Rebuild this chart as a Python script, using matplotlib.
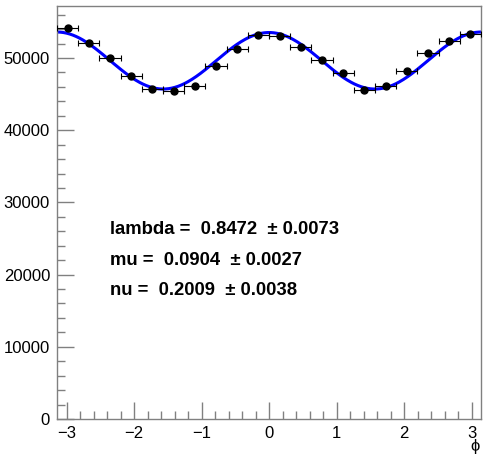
import numpy as np
import matplotlib
matplotlib.use("Agg")
import matplotlib.pyplot as plt
from matplotlib.ticker import MultipleLocator

plt.rcParams['font.family'] = ['Liberation Sans', 'DejaVu Sans']

# Data: 20 bins in phi
phi_centers = [-2.985, -2.670, -2.356, -2.042, -1.728, -1.414, -1.100, -0.785, -0.471, -0.157,
               0.157, 0.471, 0.785, 1.100, 1.414, 1.728, 2.042, 2.356, 2.670, 2.985]
counts = [54150, 52080, 50040, 47550, 45750, 45390, 46080, 48890, 51290, 53190,
          53100, 51570, 49720, 47880, 45570, 46170, 48240, 50650, 52400, 53320]
half_width = np.pi / 20

# Fit result (drawn curve): A * (1 + c1*cos(phi) + c2*cos(2*phi))
fit_A = 49632
fit_c1 = -0.0007
fit_c2 = 0.0792

fit_labels = ["lambda =  0.8472  \u00b1 0.0073",
              "mu =  0.0904  \u00b1 0.0027",
              "nu =  0.2009  \u00b1 0.0038"]
label_y = [26300, 22020, 17730]

fig = plt.figure(figsize=(4.83, 4.55), dpi=100)
ax = fig.add_axes([0.118, 0.0791, 0.878, 0.9077])

ax.errorbar(phi_centers, counts, xerr=half_width, yerr=np.sqrt(counts),
            fmt='o', color='black', markersize=5, elinewidth=0.8,
            capsize=2, capthick=0.8, zorder=3)

xs = np.linspace(-np.pi, np.pi, 400)
ax.plot(xs, fit_A * (1 + fit_c1 * np.cos(xs) + fit_c2 * np.cos(2 * xs)),
        color='#0000ff', linewidth=2.2, zorder=2)

for txt, yv in zip(fit_labels, label_y):
    ax.text(0.125, yv, txt, transform=ax.get_yaxis_transform(),
            fontsize=13.3, fontweight='bold', va='center', ha='left')

ax.set_xlim(-np.pi, np.pi)
ax.set_ylim(0, 57200)
ax.xaxis.set_major_locator(MultipleLocator(1))
ax.xaxis.set_minor_locator(MultipleLocator(0.2))
ax.yaxis.set_major_locator(MultipleLocator(10000))
ax.yaxis.set_minor_locator(MultipleLocator(2000))
ax.set_xticks([-3, -2, -1, 0, 1, 2, 3])
ax.set_xticklabels(['\u22123', '\u22122', '\u22121', '0', '1', '2', '3'])

ax.tick_params(which='both', direction='in', top=False, right=False,
               color='#808080', labelsize=12, width=1)
ax.tick_params(which='major', length=12, pad=5)
ax.tick_params(which='minor', length=6)
for s in ax.spines.values():
    s.set_color('#808080')
    s.set_linewidth(1)

fig.text(0.993, 0.002, '\u03d5', fontsize=12, ha='right', va='bottom')

fig.savefig('out.png', dpi=100)
